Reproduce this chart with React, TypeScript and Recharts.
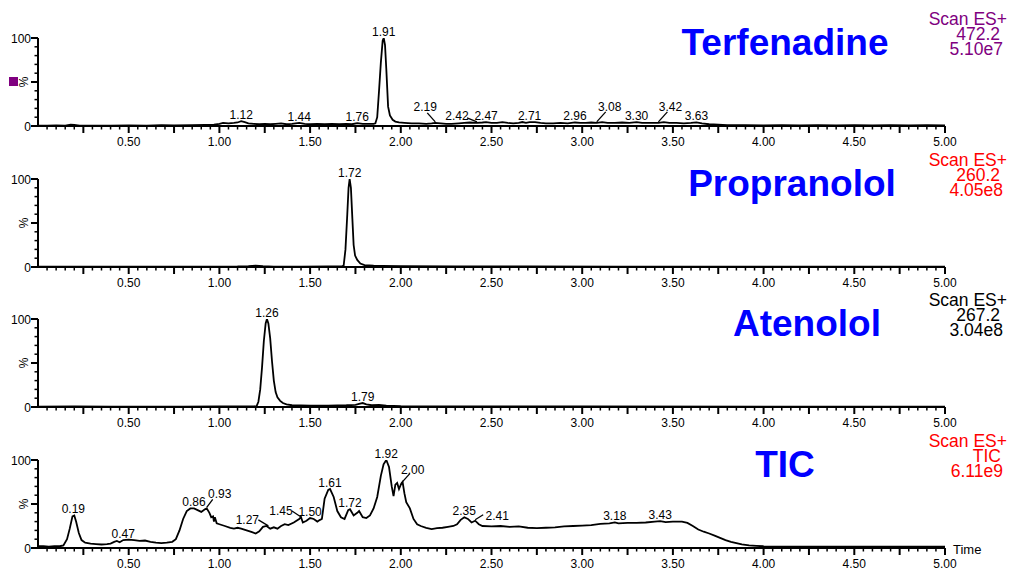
import React from 'react';
import { LineChart, Line, XAxis, YAxis, ReferenceDot } from 'recharts';

const FONT = '"Liberation Sans", Arial, Helvetica, sans-serif';

// ---------- tick labels ----------
const xTickLabels = ['0.50', '1.00', '1.50', '2.00', '2.50', '3.00', '3.50', '4.00', '4.50', '5.00'];
const yTickLabels = ['0', '100'];
const yTicks = [0, 10, 20, 30, 40, 50, 60, 70, 80, 90, 100];
const xTicks = Array.from({ length: 100 }, (_, i) => Math.round((i + 1) * 5) / 100);

// ---------- series [time, %] ----------
const terfenadine: [number, number][] = [
  [0, 0.5], [0.05, 0.5], [0.1, 0.8], [0.15, 0.5], [0.18, 1.5], [0.2, 1.2], [0.23, 0.5], [0.3, 0.5], [0.4, 0.5],
  [0.5, 0.8], [0.6, 0.5], [0.68, 1], [0.75, 0.8], [0.85, 1], [0.92, 1.2], [0.97, 1.5], [1.0, 2.5], [1.02, 3.5],
  [1.05, 3], [1.08, 3.5], [1.1, 4], [1.12, 5.5], [1.14, 4.5], [1.16, 3], [1.19, 2.5], [1.22, 2], [1.25, 2.5],
  [1.28, 2], [1.31, 2.5], [1.34, 3], [1.37, 2], [1.4, 2.5], [1.42, 3], [1.44, 3.5], [1.47, 2.5], [1.5, 2],
  [1.54, 2.5], [1.58, 2], [1.62, 2.5], [1.66, 2], [1.7, 2.5], [1.73, 2], [1.76, 3.2], [1.79, 2.5], [1.82, 2.5],
  [1.85, 2.5], [1.86, 3], [1.87, 10], [1.88, 40], [1.89, 72], [1.9, 97], [1.906, 100], [1.913, 92], [1.92, 65],
  [1.93, 22], [1.94, 12], [1.955, 7], [1.97, 5], [1.99, 4], [2.02, 3.5], [2.06, 3], [2.1, 3], [2.14, 2.5],
  [2.17, 3], [2.19, 3.5], [2.22, 3], [2.25, 2.5], [2.28, 2.5], [2.32, 3], [2.35, 3.5], [2.38, 4], [2.42, 3.5],
  [2.45, 4], [2.47, 4.5], [2.5, 3.5], [2.53, 3.5], [2.56, 4.5], [2.59, 3.5], [2.62, 3], [2.65, 3.5], [2.67, 4.5],
  [2.69, 3.5], [2.71, 4.5], [2.74, 4.5], [2.77, 3.5], [2.8, 3], [2.84, 3], [2.88, 3.5], [2.92, 3], [2.96, 4],
  [2.99, 3.5], [3.02, 3.5], [3.05, 4], [3.08, 3.5], [3.11, 4.5], [3.14, 3.5], [3.18, 3.5], [3.22, 4], [3.26, 3.5],
  [3.3, 4.5], [3.33, 3.5], [3.37, 3.5], [3.4, 3.5], [3.42, 3.5], [3.45, 4.5], [3.48, 3.5], [3.52, 3.5], [3.56, 3],
  [3.6, 3.5], [3.63, 4.2], [3.66, 3], [3.7, 2], [3.75, 1.5], [3.8, 1], [3.9, 1], [4.0, 0.8], [4.1, 1], [4.2, 0.8],
  [4.3, 1], [4.4, 0.8], [4.5, 1], [4.6, 0.8], [4.7, 1], [4.8, 0.8], [4.9, 1], [5.0, 0.8],
];

const propranolol: [number, number][] = [
  [0, 0.5], [0.3, 0.5], [0.6, 0.5], [0.9, 0.5], [1.1, 0.6], [1.16, 1], [1.2, 1.6], [1.24, 1], [1.3, 0.5],
  [1.45, 0.5], [1.6, 0.7], [1.675, 0.8], [1.685, 1.5], [1.695, 20], [1.705, 60], [1.712, 90], [1.718, 100],
  [1.725, 90], [1.733, 55], [1.74, 25], [1.748, 13], [1.76, 8], [1.777, 4], [1.8, 2.2], [1.85, 1.5], [1.9, 1.2],
  [2.0, 1], [2.3, 0.8], [2.7, 0.6], [3.2, 0.5], [4.0, 0.5], [5.0, 0.5],
];

const atenolol: [number, number][] = [
  [0, 0.5], [0.2, 0.7], [0.4, 0.5], [0.8, 0.5], [1.0, 0.6], [1.19, 0.6], [1.205, 1], [1.215, 6], [1.225, 20],
  [1.235, 45], [1.245, 75], [1.255, 95], [1.262, 100], [1.27, 95], [1.28, 78], [1.29, 52], [1.3, 30], [1.31, 17],
  [1.32, 11], [1.335, 7], [1.35, 4.5], [1.37, 3], [1.4, 2], [1.5, 1.5], [1.6, 1.5], [1.7, 2], [1.75, 2.5],
  [1.77, 3.5], [1.79, 4.5], [1.81, 3], [1.84, 2], [1.88, 2.5], [1.92, 1.5], [2.0, 1], [2.5, 0.8], [3.0, 0.6],
  [4.0, 0.5], [5.0, 0.5],
];

const tic: [number, number][] = [
  [0, 2], [0.03, 2], [0.06, 1.5], [0.09, 2], [0.12, 2], [0.14, 3], [0.16, 10], [0.175, 22], [0.19, 36], [0.2, 37],
  [0.21, 30], [0.225, 17], [0.24, 9], [0.26, 6], [0.29, 5], [0.32, 4.5], [0.35, 4], [0.38, 4.5], [0.4, 5],
  [0.42, 7], [0.435, 8], [0.45, 6.5], [0.47, 9], [0.5, 9.5], [0.53, 9], [0.56, 8], [0.59, 8.5], [0.62, 7],
  [0.65, 6], [0.68, 5.5], [0.71, 6], [0.74, 7], [0.76, 10], [0.78, 20], [0.8, 33], [0.82, 42], [0.84, 45],
  [0.86, 45], [0.88, 43], [0.9, 41], [0.92, 44], [0.93, 45], [0.945, 40], [0.955, 35], [0.965, 36], [0.97, 30],
  [0.975, 35], [0.985, 28], [1.0, 27], [1.03, 25], [1.06, 23], [1.08, 22], [1.1, 23], [1.12, 22], [1.15, 20],
  [1.18, 18], [1.2, 16.5], [1.22, 19], [1.24, 24], [1.26, 25], [1.28, 22], [1.3, 23.5], [1.32, 22], [1.34, 25],
  [1.36, 27], [1.38, 26], [1.41, 29], [1.44, 33], [1.45, 35], [1.46, 29], [1.48, 31], [1.5, 34], [1.52, 33],
  [1.54, 30], [1.555, 32], [1.565, 33], [1.58, 56], [1.6, 66], [1.61, 67], [1.63, 58], [1.65, 42], [1.67, 35],
  [1.69, 33], [1.71, 43], [1.72, 44], [1.74, 37], [1.76, 40], [1.77, 42], [1.79, 35], [1.81, 34], [1.83, 37],
  [1.85, 45], [1.87, 58], [1.89, 82], [1.905, 95], [1.92, 100], [1.935, 92], [1.95, 70], [1.96, 59], [1.97, 72],
  [1.98, 74], [1.99, 67], [2.0, 72], [2.01, 75], [2.02, 62], [2.03, 52], [2.05, 45], [2.07, 33], [2.09, 27],
  [2.11, 25], [2.14, 23], [2.17, 21.5], [2.2, 22.5], [2.23, 23], [2.26, 24], [2.29, 25], [2.31, 27], [2.33, 32],
  [2.35, 35], [2.37, 33], [2.39, 29], [2.41, 31], [2.43, 27], [2.45, 25], [2.5, 24.5], [2.55, 25], [2.6, 24],
  [2.65, 24.5], [2.7, 23], [2.75, 22.5], [2.8, 23], [2.85, 23.5], [2.9, 24.5], [2.95, 25], [3.0, 25.5],
  [3.05, 26], [3.1, 27.5], [3.15, 28], [3.18, 29], [3.2, 28], [3.25, 28.5], [3.3, 28.5], [3.35, 29], [3.4, 30],
  [3.43, 30.5], [3.46, 29.5], [3.5, 30], [3.55, 30], [3.58, 28.5], [3.61, 25], [3.64, 21], [3.67, 18.5],
  [3.7, 16.5], [3.73, 14], [3.76, 11.5], [3.79, 9], [3.82, 7], [3.85, 5.5], [3.88, 4], [3.92, 3], [3.96, 2.5],
  [4.0, 2], [4.1, 1.5], [4.3, 1.5], [4.5, 1.5], [4.7, 1.5], [4.9, 1.5], [5.0, 1.5],
];

// ---------- peak labels [time, %, text] ----------
const terfPeaks: [number, number, string][] = [
  [1.12, 5.5, '1.12'], [1.44, 3, '1.44'], [1.76, 3, '1.76'], [1.906, 100, '1.91'], [2.19, 3.5, '2.19'],
  [2.42, 3.5, '2.42'], [2.47, 4.5, '2.47'], [2.71, 4.5, '2.71'], [2.96, 4.5, '2.96'], [3.08, 3.5, '3.08'],
  [3.3, 4.5, '3.30'], [3.42, 3.5, '3.42'], [3.63, 4.5, '3.63'],
];
const propPeaks: [number, number, string][] = [[1.718, 100, '1.72']];
const atenPeaks: [number, number, string][] = [[1.262, 100, '1.26'], [1.79, 4.5, '1.79']];
const ticPeaks: [number, number, string][] = [
  [0.195, 37, '0.19'], [0.47, 9, '0.47'], [0.86, 45, '0.86'], [0.93, 45, '0.93'], [1.27, 24, '1.27'],
  [1.45, 34, '1.45'], [1.5, 34, '1.50'], [1.61, 67, '1.61'], [1.72, 44, '1.72'], [1.92, 100, '1.92'],
  [2.0, 72, '2.00'], [2.35, 35, '2.35'], [2.41, 31, '2.41'], [3.18, 29, '3.18'], [3.43, 30.5, '3.43'],
];

// leader-line label offsets (style, keyed by label text): [textDx, textDy, lineDx, lineDy]
const terfLeaders: Record<string, [number, number, number, number]> = {
  '2.19': [-10, -12, -8, -9],
  '2.42': [-20, -3, -10, -4],
  '3.08': [13, -12, 9, -10],
  '3.42': [12, -12, 9, -10],
};
const ticLeaders: Record<string, [number, number, number, number]> = {
  '0.93': [13, -10, 6, -8],
  '1.27': [-21, -3, -10, -6],
  '1.45': [-20, -3, -9, -6],
  '2.00': [12, -11, 9, -10],
  '2.41': [22, -1, 8, -5],
};

const XTick = (props: any) => {
  const { x, y, payload } = props;
  const h = Math.round(payload.value * 100);
  const major = h % 25 === 0;
  const label = h % 50 === 0 ? xTickLabels.find((s) => s === (h / 100).toFixed(2)) : undefined;
  return (
    <g>
      <line x1={x} x2={x} y1={y} y2={y + (major ? 7 : 3.5)} stroke="#000" strokeWidth={major ? 2 : 1.5} />
      {label && (
        <text x={x} y={y + 19.5} textAnchor="middle" fontSize={12} fontFamily={FONT} fill="#000">
          {label}
        </text>
      )}
    </g>
  );
};

const YTick = (props: any) => {
  const { x, y, payload } = props;
  const v = payload.value;
  const major = v % 50 === 0;
  const label = v === 0 ? yTickLabels[0] : v === 100 ? yTickLabels[1] : undefined;
  return (
    <g>
      <line x1={x} x2={x - (major ? 7 : 3.5)} y1={y} y2={y} stroke="#000" strokeWidth={major ? 2 : 1.5} />
      {label && (
        <text x={x - 7} y={y + 4.5} textAnchor="end" fontSize={12} fontFamily={FONT} fill="#000">
          {label}
        </text>
      )}
    </g>
  );
};

const PeakLabel = (props: any) => {
  const { cx, cy, text, leader } = props;
  if (cx == null || cy == null) return null;
  if (leader) {
    const [tdx, tdy, ldx, ldy] = leader;
    return (
      <g>
        <line x1={cx} y1={cy - 1} x2={cx + ldx} y2={cy - 1 + ldy} stroke="#000" strokeWidth={1.3} />
        <text x={cx + tdx} y={cy + tdy} textAnchor="middle" fontSize={12} fontFamily={FONT} fill="#000">
          {text}
        </text>
      </g>
    );
  }
  return (
    <text x={cx} y={cy - 2} textAnchor="middle" fontSize={12} fontFamily={FONT} fill="#000">
      {text}
    </text>
  );
};

type PanelProps = {
  top: number;
  series: [number, number][];
  peaks: [number, number, string][];
  leaders?: Record<string, [number, number, number, number]>;
};

const Panel = ({ top, series, peaks, leaders = {} }: PanelProps) => {
  const data = series.map(([t, v]) => ({ t, v }));
  return (
    <div style={{ position: 'absolute', left: 0, top }}>
      <LineChart width={1013} height={165} data={data} margin={{ top: 38, right: 68, bottom: 9, left: 0 }}>
        <XAxis
          dataKey="t"
          type="number"
          domain={[0, 5]}
          ticks={xTicks}
          interval={0}
          tick={(p: any) => <XTick {...p} />}
          tickLine={false}
          tickSize={0}
          tickMargin={0}
          axisLine={{ stroke: '#000', strokeWidth: 2 }}
          height={30}
          allowDataOverflow
        />
        <YAxis
          type="number"
          domain={[0, 100]}
          ticks={yTicks}
          interval={0}
          tick={(p: any) => <YTick {...p} />}
          tickLine={false}
          tickSize={0}
          tickMargin={0}
          axisLine={{ stroke: '#000', strokeWidth: 2 }}
          width={38}
          allowDataOverflow
        />
        <Line
          dataKey="v"
          type="linear"
          dot={false}
          stroke="#000"
          strokeWidth={1.8}
          isAnimationActive={false}
        />
        {peaks.map(([t, v, text]) => (
          <ReferenceDot
            key={text}
            x={t}
            y={v}
            r={0}
            ifOverflow="visible"
            shape={(p: any) => <PeakLabel {...p} text={text} leader={leaders[text]} />}
          />
        ))}
      </LineChart>
    </div>
  );
};

const panelTops = [0, 141, 281, 422];
const titles = ['Terfenadine', 'Propranolol', 'Atenolol', 'TIC'];
const masses = ['472.2', '260.2', '267.2', 'TIC'];
const intensities = ['5.10e7', '4.05e8', '3.04e8', '6.11e9'];
const infoColors = ['#800080', '#ff0000', '#000000', '#ff0000'];
const titleX = [785, 792, 807, 785];

export default function App() {
  return (
    <div style={{ position: 'absolute', left: 0, top: 0, width: 1013, height: 569, overflow: 'hidden', background: '#fff' }}>
      <Panel top={panelTops[0]} series={terfenadine} peaks={terfPeaks} leaders={terfLeaders} />
      <Panel top={panelTops[1]} series={propranolol} peaks={propPeaks} />
      <Panel top={panelTops[2]} series={atenolol} peaks={atenPeaks} />
      <Panel top={panelTops[3]} series={tic} peaks={ticPeaks} leaders={ticLeaders} />
      <svg width={1013} height={569} style={{ position: 'absolute', left: 0, top: 0, pointerEvents: 'none' }}>
        {panelTops.map((top, i) => (
          <g key={i} fontFamily={FONT}>
            <text
              x={24}
              y={top + 82}
              transform={`rotate(-90 ${24} ${top + 82})`}
              textAnchor="middle"
              dominantBaseline="central"
              fontSize={12}
              fill="#000"
            >
              %
            </text>
            <text x={titleX[i]} y={top + 55} textAnchor="middle" fontSize={37} fontWeight="bold" fill="#0000ff">
              {titles[i]}
            </text>
            <text x={1007} y={top + 25} textAnchor="end" fontSize={17.5} fill={infoColors[i]}>
              Scan ES+
            </text>
            <text x={i === 3 ? 1001 : 1000} y={top + 40} textAnchor="end" fontSize={17.5} fill={infoColors[i]}>
              {masses[i]}
            </text>
            <text x={1003} y={top + 55} textAnchor="end" fontSize={17.5} fill={infoColors[i]}>
              {intensities[i]}
            </text>
          </g>
        ))}
        <rect x={9} y={77} width={9} height={9} fill="#800080" />
        <text x={953} y={554} fontSize={13} fontFamily={FONT} fill="#000">
          Time
        </text>
      </svg>
    </div>
  );
}
